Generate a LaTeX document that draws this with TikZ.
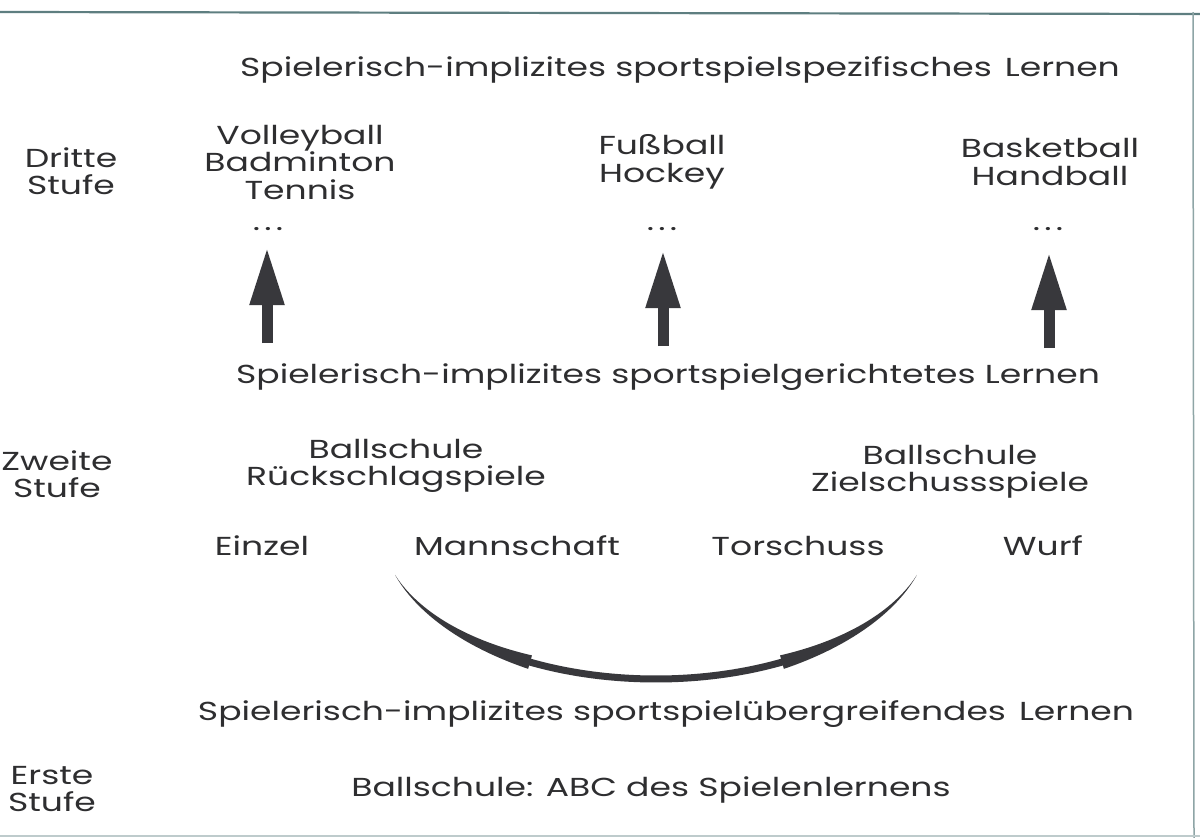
\documentclass[tikz,border=0pt]{standalone}
\usepackage{fontspec}
\setmainfont[FakeStretch=1.33]{Poppins}
\usetikzlibrary{arrows.meta}
\definecolor{ink}{HTML}{2E2E30}
\definecolor{arrowgray}{HTML}{38383C}
\definecolor{frame}{HTML}{5E7E80}
\begin{document}
\begin{tikzpicture}[x=1pt,y=-1pt,
  lbl/.style={text=ink, font=\fontsize{26}{27.5}\selectfont, align=center, inner sep=0pt},
  uparrow/.style={draw=arrowgray, line width=11pt, -{Triangle[length=58pt,width=32pt]}},
  declare function={
    ex(\u)=656+275*\u;
    ey(\u)=527+152*sqrt(1-\u*\u);
    nx(\u)=1.52*\u;
    ny(\u)=2.75*sqrt(1-\u*\u);
    nn(\u)=sqrt(nx(\u)*nx(\u)+ny(\u)*ny(\u));
    wl(\u)=14*(\u+0.949)/0.491;
    wr(\u)=14*(0.949-\u)/0.491;
  }]
\useasboundingbox (0,0) rectangle (1200,838);
\fill[white] (0,0) rectangle (1200,838);
% frame
\draw[frame, line width=2.2pt] (0,12) -- (1200,14);
\draw[frame!70, line width=1.5pt] (1193,12) -- (1194,838);
\draw[frame!40, line width=1.5pt] (0,836) -- (1200,836);

% texts
\node[lbl] (t1) at (680,70) {Spielerisch-implizites sportspielspezifisches\hspace{0.5em}Lernen};
\node[lbl] (s3) at (71,171) {Dritte\\Stufe};
\node[lbl] (g1) at (300,162) {Volleyball\\Badminton\\Tennis};
\node[lbl] (g2) at (662,162) {Fußball\\Hockey};
\node[lbl] (g3) at (1050,162) {Basketball\\Handball};
\node[lbl] (d1) at (268,229) {.\,.\,.};
\node[lbl] (d2) at (662,229) {.\,.\,.};
\node[lbl] (d3) at (1048,229) {.\,.\,.};
\node[lbl] (t2) at (668,377) {Spielerisch-implizites sportspielgerichtetes Lernen};
\node[lbl] (s2) at (57,474) {Zweite\\Stufe};
\node[lbl] (b1) at (396,466) {Ballschule\\Rückschlagspiele};
\node[lbl] (b2) at (950,472) {Ballschule\\Zielschussspiele};
\node[lbl] (e1) at (262,546) {Einzel};
\node[lbl] (e2) at (517,546) {Mannschaft};
\node[lbl] (e3) at (798,546) {Torschuss};
\node[lbl] (e4) at (1043,546) {Wurf};
\node[lbl] (t3) at (666,714) {Spielerisch-implizites sportspielübergreifendes\hspace{0.5em}Lernen};
\node[lbl] (s1) at (52,789) {Erste\\Stufe};
\node[lbl] (abc) at (651,790) {Ballschule: ABC des Spielenlernens};

% up arrows
\coordinate (a1s) at (267,343); \coordinate (a1t) at (267,247);
\coordinate (a2s) at (663,346); \coordinate (a2t) at (663,250);
\coordinate (a3s) at (1049,348); \coordinate (a3t) at (1049,252);
\draw[uparrow] (a1s) -- (a1t);
\draw[uparrow] (a2s) -- (a2t);
\draw[uparrow] (a3s) -- (a3t);

% curved double arrow
\fill[arrowgray]
  plot[domain=-0.949:-0.458, samples=40, variable=\u]
    ({ex(\u)+0.5*wl(\u)*nx(\u)/nn(\u)}, {ey(\u)+0.5*wl(\u)*ny(\u)/nn(\u)})
  -- plot[domain=-0.458:-0.949, samples=40, variable=\u]
    ({ex(\u)-0.5*wl(\u)*nx(\u)/nn(\u)}, {ey(\u)-0.5*wl(\u)*ny(\u)/nn(\u)})
  -- cycle;
\fill[arrowgray]
  plot[domain=0.458:0.949, samples=40, variable=\u]
    ({ex(\u)+0.5*wr(\u)*nx(\u)/nn(\u)}, {ey(\u)+0.5*wr(\u)*ny(\u)/nn(\u)})
  -- plot[domain=0.949:0.458, samples=40, variable=\u]
    ({ex(\u)-0.5*wr(\u)*nx(\u)/nn(\u)}, {ey(\u)-0.5*wr(\u)*ny(\u)/nn(\u)})
  -- cycle;
\fill[arrowgray]
  plot[domain=-0.47:0.47, samples=40, variable=\u]
    ({ex(\u)+3.5*nx(\u)/nn(\u)}, {ey(\u)+3.5*ny(\u)/nn(\u)})
  -- plot[domain=0.47:-0.47, samples=40, variable=\u]
    ({ex(\u)-3.5*nx(\u)/nn(\u)}, {ey(\u)-3.5*ny(\u)/nn(\u)})
  -- cycle;
\end{tikzpicture}
\end{document}
